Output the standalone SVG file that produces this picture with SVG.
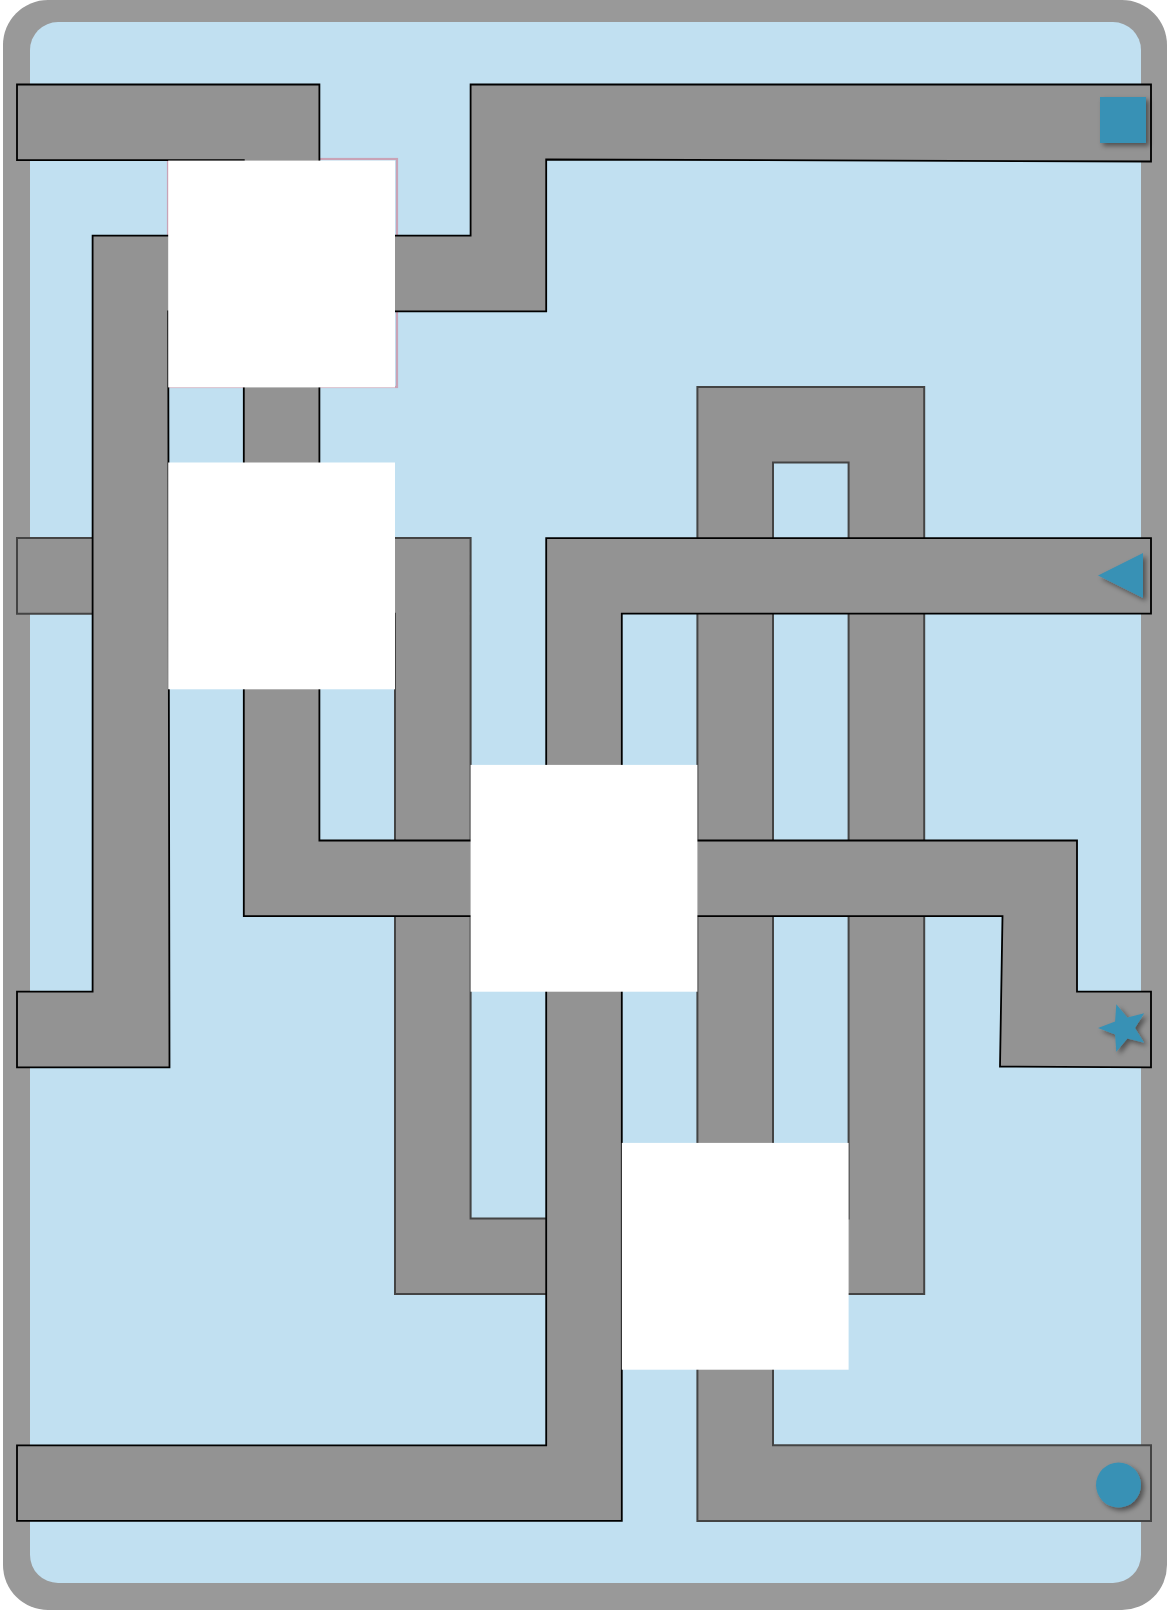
<svg xmlns="http://www.w3.org/2000/svg" width="1167" height="1615" viewBox="0 0 1167 1615">
  <defs>
    <style>
      .frame { fill: #999999; }
      .board { fill: #C1E0F1; }
      .track { fill: #939393; stroke: #000000; stroke-width: 1.8; stroke-linejoin: miter; }
      .track-dark { fill: #939393; stroke: #444444; stroke-width: 2; stroke-linejoin: miter; }
      .cover { fill: #FFFFFF; }
      .outline-pink { fill: none; stroke: #C9A3B6; stroke-width: 2.2; }
      .token { fill: #3891B5; filter: url(#shadow); }
    </style>
    <filter id="shadow" x="-40%" y="-40%" width="180%" height="180%">
      <feDropShadow dx="3" dy="3" stdDeviation="2.5" flood-color="#000000" flood-opacity="0.45"/>
    </filter>
  </defs>

  <g id="board">
    <rect class="frame" x="3" y="0" width="1164" height="1610" rx="45" ry="45"/>
    <rect class="board" x="30" y="22" width="1111" height="1561" rx="28" ry="28"/>
  </g>

  <g id="pink-outline">
    <rect class="outline-pink" x="168" y="159" width="229" height="228"/>
  </g>

  <g id="connectors">
    <path id="track-circle" class="track-dark" d="M17,538.1 H470.6 V1218.5 H848.6 V462.5 H773 V1445.3 H1151 V1520.9 H697.4 V386.9 H924.2 V1294.1 H395 V613.7 H17 Z"/>
    <path id="track-triangle" class="track" d="M1151,538.1 H546.2 V1445.3 H17 V1520.9 H621.8 V613.7 H1151 Z"/>
    <path id="track-square" class="track" d="M1151,84.5 H470.6 V235.7 H92.6 V991.7 H17 V1067.3 L169.5,1067.3 L168.2,311.3 H546.2 V159.5 L1151,161.5 Z"/>
    <path id="track-star" class="track" d="M17,84.5 H319.4 V840.5 H1077 V991.7 H1151 V1067.3 L1000,1066.5 L1002.5,916.1 H243.8 V160.1 H17 Z"/>
  </g>

  <g id="covers">
    <rect id="cover-a" class="cover" x="168.2" y="160.6" width="226.8" height="226.8"/>
    <rect id="cover-b" class="cover" x="168.2" y="462.5" width="226.8" height="226.8"/>
    <rect id="cover-c" class="cover" x="470.6" y="764.9" width="226.8" height="226.8"/>
    <rect id="cover-d" class="cover" x="621.8" y="1142.9" width="226.8" height="226.8"/>
  </g>

  <g id="tokens">
    <g id="token-square"><rect class="token" x="1100" y="97" width="46" height="46"/></g>
    <g id="token-triangle"><polygon class="token" points="1143,553 1143,598 1098,575.5"/></g>
    <g id="token-star"><polygon class="token" points="1098,1028 1115.1,1021.5 1116.3,1004.2 1127.4,1017.5 1144.2,1013.3 1135,1028 1144.2,1042.7 1127.4,1038.5 1116.3,1051.8 1115.1,1034.5"/></g>
    <g id="token-circle"><circle class="token" cx="1118.5" cy="1485" r="22.5"/></g>
  </g>
</svg>
